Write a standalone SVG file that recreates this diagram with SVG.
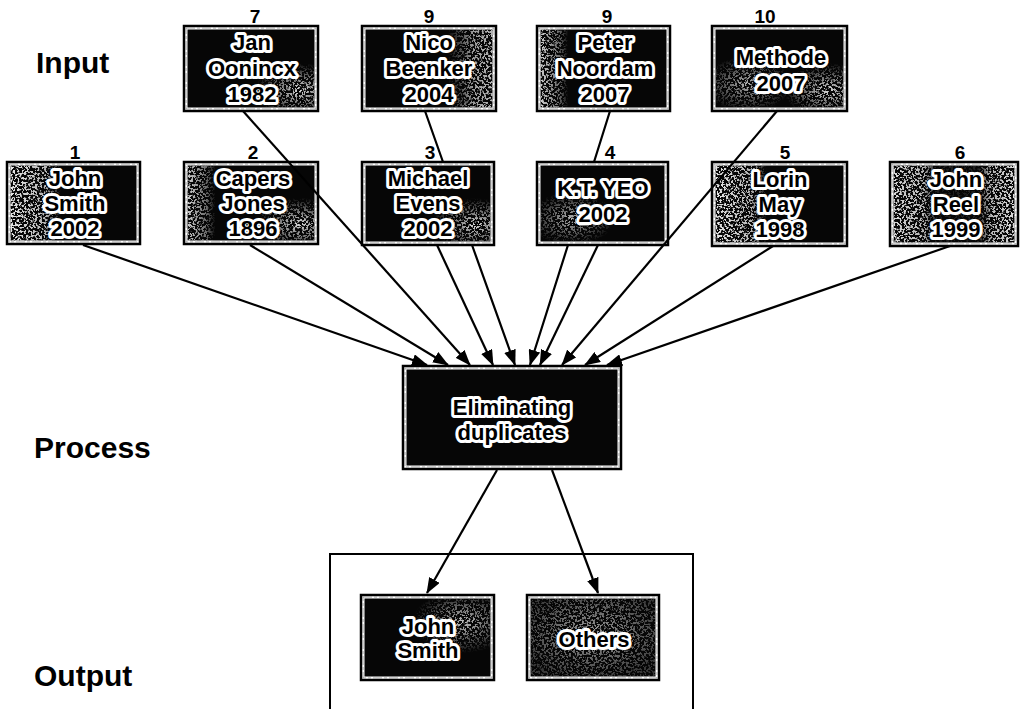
<svg xmlns="http://www.w3.org/2000/svg" width="1020" height="709" viewBox="0 0 1020 709">
  <style>
    .frame { fill: #fff; stroke: #000; stroke-width: 2.5; }
    .inner { fill: #060606; }
    .rim { fill: none; stroke: #8a8a8a; stroke-width: 0.8; stroke-dasharray: 9 2 3 2; }
    .lbl { font-family: "Liberation Sans", Arial, sans-serif; font-weight: bold; font-size: 22px; text-anchor: middle; fill: #000; stroke: #fff; stroke-width: 6; stroke-linejoin: round; paint-order: stroke fill; }
    .num { font-family: "Liberation Sans", Arial, sans-serif; font-weight: bold; font-size: 19px; text-anchor: middle; fill: #000; }
    .stage { font-family: "Liberation Sans", Arial, sans-serif; font-weight: bold; font-size: 30px; fill: #000; }
    .conn { fill: none; stroke: #000; stroke-width: 2.2; marker-end: url(#arr); }
    .box { fill: none; stroke: #000; stroke-width: 2; }
  </style>
  <defs>
    <marker id="arr" markerUnits="userSpaceOnUse" markerWidth="16" markerHeight="12" refX="15" refY="6" orient="auto">
      <path d="M0,0 L16,6 L0,12 z" fill="#000"/>
    </marker>
    <!-- speckled grey texture on the dark boxes -->
    <filter id="grain" x="0" y="0" width="1" height="1">
      <feTurbulence type="fractalNoise" baseFrequency="0.45" numOctaves="2" seed="7" result="n"/>
      <feColorMatrix in="n" type="matrix" values="0 0 0 0 1  0 0 0 0 1  0 0 0 0 1  12 0 0 0 -5.9" result="w"/>
      <feComposite in="w" in2="SourceGraphic" operator="in"/>
    </filter>
    <linearGradient id="pL" x1="0" y1="0" x2="1" y2="0">
      <stop offset="0" stop-color="#fff" stop-opacity="0.9"/>
      <stop offset="0.28" stop-color="#fff" stop-opacity="0.7"/>
      <stop offset="0.4" stop-color="#fff" stop-opacity="0"/>
    </linearGradient>
    <linearGradient id="pLs" x1="0" y1="0" x2="1" y2="0">
      <stop offset="0" stop-color="#fff" stop-opacity="0.8"/>
      <stop offset="0.15" stop-color="#fff" stop-opacity="0.4"/>
      <stop offset="0.22" stop-color="#fff" stop-opacity="0"/>
    </linearGradient>
    <linearGradient id="pR" x1="0" y1="0" x2="1" y2="0">
      <stop offset="0.65" stop-color="#fff" stop-opacity="0"/>
      <stop offset="0.85" stop-color="#fff" stop-opacity="0.6"/>
      <stop offset="1" stop-color="#fff" stop-opacity="0.7"/>
    </linearGradient>
    <linearGradient id="pLR" x1="0" y1="0" x2="1" y2="0">
      <stop offset="0" stop-color="#fff" stop-opacity="0.85"/>
      <stop offset="0.25" stop-color="#fff" stop-opacity="0.7"/>
      <stop offset="0.35" stop-color="#fff" stop-opacity="0.1"/>
      <stop offset="0.7" stop-color="#fff" stop-opacity="0.1"/>
      <stop offset="0.8" stop-color="#fff" stop-opacity="0.7"/>
      <stop offset="1" stop-color="#fff" stop-opacity="0.85"/>
    </linearGradient>
    <radialGradient id="pBR" cx="0.88" cy="0.78" r="0.35">
      <stop offset="0" stop-color="#fff" stop-opacity="0.85"/>
      <stop offset="1" stop-color="#fff" stop-opacity="0"/>
    </radialGradient>
    <radialGradient id="pBL" cx="0.25" cy="0.7" r="0.35">
      <stop offset="0" stop-color="#fff" stop-opacity="0.7"/>
      <stop offset="1" stop-color="#fff" stop-opacity="0"/>
    </radialGradient>
    <radialGradient id="pTR" cx="0.78" cy="0.3" r="0.4">
      <stop offset="0" stop-color="#fff" stop-opacity="0.75"/>
      <stop offset="1" stop-color="#fff" stop-opacity="0"/>
    </radialGradient>
    <radialGradient id="pMid" cx="0.5" cy="0.45" r="0.6">
      <stop offset="0" stop-color="#fff" stop-opacity="0.6"/>
      <stop offset="1" stop-color="#fff" stop-opacity="0.2"/>
    </radialGradient>
  </defs>

  <!-- stage captions -->
  <text class="stage" x="36" y="73">Input</text>
  <text class="stage" x="34" y="458">Process</text>
  <text class="stage" x="34" y="686">Output</text>

  <!-- output container -->
  <path class="box" d="M330,712 V554 H693 V712"/>

  <!-- top row of sources -->
  <g id="src7">
    <text class="num" x="255" y="23">7</text>
    <rect class="frame" x="184" y="26" width="134" height="85"/>
    <rect class="inner" x="187.5" y="29.5" width="127" height="78"/>
    <rect x="187.5" y="29.5" width="127" height="78" fill="url(#pBR)" filter="url(#grain)"/>
    <rect class="rim" x="186" y="28" width="130" height="81"/>
    <text class="lbl" x="252" y="50">Jan</text>
    <text class="lbl" x="252" y="76">Oonincx</text>
    <text class="lbl" x="252" y="102">1982</text>
  </g>
  <g id="src9a">
    <text class="num" x="429" y="23">9</text>
    <rect class="frame" x="362" y="26" width="134" height="85"/>
    <rect class="inner" x="365.5" y="29.5" width="127" height="78"/>
    <rect x="365.5" y="29.5" width="127" height="78" fill="url(#pR)" filter="url(#grain)"/>
    <rect class="rim" x="364" y="28" width="130" height="81"/>
    <text class="lbl" x="429" y="50">Nico</text>
    <text class="lbl" x="429" y="76">Beenker</text>
    <text class="lbl" x="429" y="102">2004</text>
  </g>
  <g id="src9b">
    <text class="num" x="607" y="23">9</text>
    <rect class="frame" x="537" y="26" width="133" height="85"/>
    <rect class="inner" x="540.5" y="29.5" width="126" height="78"/>
    <rect x="540.5" y="29.5" width="126" height="78" fill="url(#pLs)" filter="url(#grain)"/>
    <rect class="rim" x="539" y="28" width="129" height="81"/>
    <text class="lbl" x="605" y="50">Peter</text>
    <text class="lbl" x="605" y="76">Noordam</text>
    <text class="lbl" x="605" y="102">2007</text>
  </g>
  <g id="src10">
    <text class="num" x="765" y="23">10</text>
    <rect class="frame" x="712" y="26" width="135" height="85"/>
    <rect class="inner" x="715.5" y="29.5" width="128" height="78"/>
    <rect x="715.5" y="29.5" width="128" height="78" fill="url(#pBL)" filter="url(#grain)"/>
    <rect x="715.5" y="29.5" width="128" height="78" fill="url(#pBR)" filter="url(#grain)"/>
    <rect class="rim" x="714" y="28" width="131" height="81"/>
    <text class="lbl" x="781" y="65">Methode</text>
    <text class="lbl" x="781" y="91">2007</text>
  </g>

  <!-- second row of sources -->
  <g id="src1">
    <text class="num" x="75" y="159">1</text>
    <rect class="frame" x="7" y="162" width="133" height="82"/>
    <rect class="inner" x="10.5" y="165.5" width="126" height="75"/>
    <rect x="10.5" y="165.5" width="126" height="75" fill="url(#pL)" filter="url(#grain)"/>
    <rect class="rim" x="9" y="164" width="129" height="78"/>
    <text class="lbl" x="75" y="186">John</text>
    <text class="lbl" x="75" y="211">Smith</text>
    <text class="lbl" x="75" y="236">2002</text>
  </g>
  <g id="src2">
    <text class="num" x="253" y="159">2</text>
    <rect class="frame" x="184" y="162" width="134" height="82"/>
    <rect class="inner" x="187.5" y="165.5" width="127" height="75"/>
    <rect x="187.5" y="165.5" width="127" height="75" fill="url(#pLs)" filter="url(#grain)"/>
    <rect x="187.5" y="165.5" width="127" height="75" fill="url(#pBR)" filter="url(#grain)"/>
    <rect class="rim" x="186" y="164" width="130" height="78"/>
    <text class="lbl" x="253" y="186">Capers</text>
    <text class="lbl" x="253" y="211">Jones</text>
    <text class="lbl" x="253" y="236">1896</text>
  </g>
  <g id="src3">
    <text class="num" x="430" y="159">3</text>
    <rect class="frame" x="362" y="162" width="132" height="83"/>
    <rect class="inner" x="365.5" y="165.5" width="125" height="76"/>
    <rect x="365.5" y="165.5" width="125" height="76" fill="url(#pBR)" filter="url(#grain)"/>
    <rect class="rim" x="364" y="164" width="128" height="79"/>
    <text class="lbl" x="428" y="186">Michael</text>
    <text class="lbl" x="428" y="211">Evens</text>
    <text class="lbl" x="428" y="236">2002</text>
  </g>
  <g id="src4">
    <text class="num" x="610" y="159">4</text>
    <rect class="frame" x="537" y="162" width="131" height="83"/>
    <rect class="inner" x="540.5" y="165.5" width="124" height="76"/>
    <rect x="540.5" y="165.5" width="124" height="76" fill="url(#pBL)" filter="url(#grain)"/>
    <rect class="rim" x="539" y="164" width="127" height="79"/>
    <text class="lbl" x="603" y="196">K.T. YEO</text>
    <text class="lbl" x="603" y="222">2002</text>
  </g>
  <g id="src5">
    <text class="num" x="785" y="159">5</text>
    <rect class="frame" x="712" y="162" width="135" height="84"/>
    <rect class="inner" x="715.5" y="165.5" width="128" height="77"/>
    <rect x="715.5" y="165.5" width="128" height="77" fill="url(#pL)" filter="url(#grain)"/>
    <rect class="rim" x="714" y="164" width="131" height="80"/>
    <text class="lbl" x="780" y="187">Lorin</text>
    <text class="lbl" x="780" y="212">May</text>
    <text class="lbl" x="780" y="237">1998</text>
  </g>
  <g id="src6">
    <text class="num" x="960" y="159">6</text>
    <rect class="frame" x="890" y="162" width="128" height="84"/>
    <rect class="inner" x="893.5" y="165.5" width="121" height="77"/>
    <rect x="893.5" y="165.5" width="121" height="77" fill="url(#pLR)" filter="url(#grain)"/>
    <rect class="rim" x="892" y="164" width="124" height="80"/>
    <text class="lbl" x="956" y="187">John</text>
    <text class="lbl" x="956" y="212">Reel</text>
    <text class="lbl" x="956" y="237">1999</text>
  </g>

  <!-- process step -->
  <g id="dedupe">
    <rect class="frame" x="403" y="366" width="218" height="103"/>
    <rect class="inner" x="406.5" y="369.5" width="211" height="96"/>
    <rect class="rim" x="405" y="368" width="214" height="99"/>
    <text class="lbl" x="512" y="415">Eliminating</text>
    <text class="lbl" x="512" y="440">duplicates</text>
  </g>

  <!-- results -->
  <g id="outJohn">
    <rect class="frame" x="361" y="595" width="133" height="85"/>
    <rect class="inner" x="364.5" y="598.5" width="126" height="78"/>
    <rect x="364.5" y="598.5" width="126" height="78" fill="url(#pTR)" filter="url(#grain)"/>
    <rect class="rim" x="363" y="597" width="129" height="81"/>
    <text class="lbl" x="428" y="634">John</text>
    <text class="lbl" x="428" y="658">Smith</text>
  </g>
  <g id="outOthers">
    <rect class="frame" x="527" y="595" width="132" height="85"/>
    <rect class="inner" x="530.5" y="598.5" width="125" height="78"/>
    <rect x="530.5" y="598.5" width="125" height="78" fill="url(#pMid)" filter="url(#grain)"/>
    <rect class="rim" x="529" y="597" width="128" height="81"/>
    <text class="lbl" x="594" y="647">Others</text>
  </g>

  <!-- connectors -->
  <g id="connectors">
    <path class="conn" d="M83,245 L427,365"/>
    <path class="conn" d="M250,245 L448,365"/>
    <path class="conn" d="M243,111 L470,365"/>
    <path class="conn" d="M437,245 L493,365"/>
    <path class="conn" d="M425,111 L443,162 M472,245 L515,365"/>
    <path class="conn" d="M610,111 L594,162 M568,245 L530,365"/>
    <path class="conn" d="M598,245 L540,365"/>
    <path class="conn" d="M777,111 L562,365"/>
    <path class="conn" d="M773,246 L585,365"/>
    <path class="conn" d="M950,246 L607,365"/>
    <path class="conn" d="M497,470 L427,593"/>
    <path class="conn" d="M552,470 L598,593"/>
  </g>
</svg>
